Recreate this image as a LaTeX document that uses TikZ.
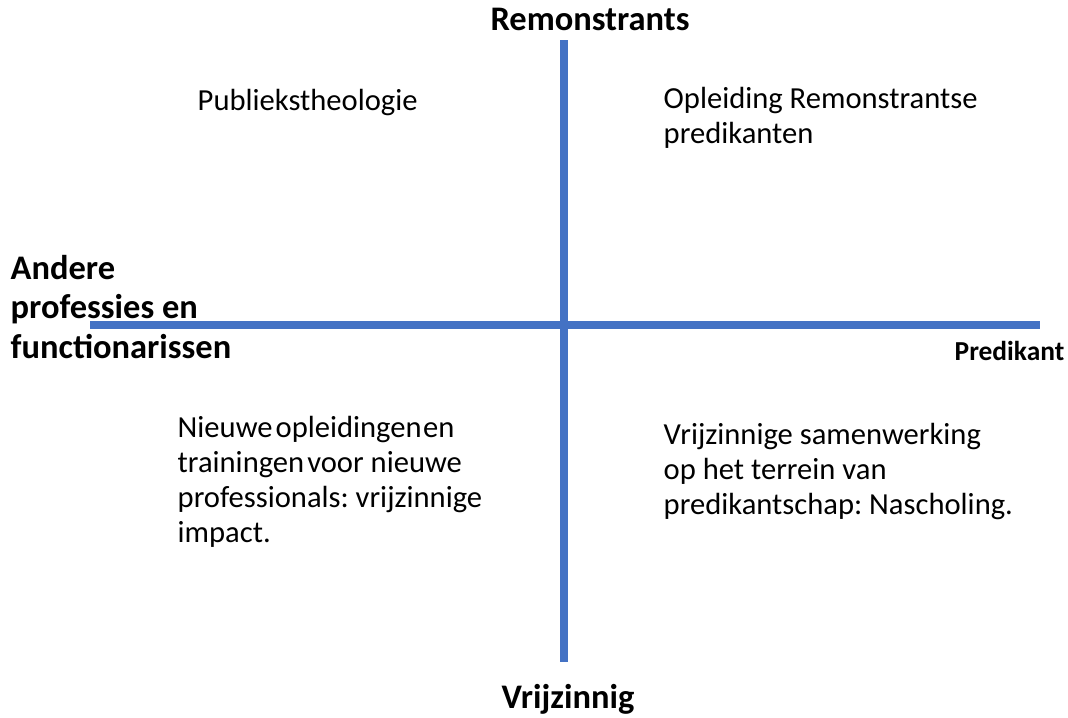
\documentclass[tikz,border=0pt]{standalone}
\usepackage{fontspec}
\setmainfont{Carlito}
\frenchspacing
\definecolor{axisblue}{HTML}{4472C4}
\tikzset{
  axis/.style={axisblue, line width=7.5pt*0.2845},
  quadtext/.style={inner sep=0pt, align=left, anchor=base west, font=\fontsize{8.7}{9.9}\selectfont},
  axislabel/.style={inner sep=0pt, font=\bfseries\fontsize{9.8}{11.2}\selectfont}
}
\begin{document}
\begin{tikzpicture}[x=0.01cm, y=-0.01cm]
    \useasboundingbox (0,0) rectangle (1068,717);
    % axes
    \coordinate (top) at (564,40);
    \coordinate (bottom) at (564,662);
    \coordinate (left) at (90,325);
    \coordinate (right) at (1040,325);
    \draw[axis] (left) -- (right);
    \draw[axis] (top) -- (bottom);
    % axis labels (base = last line)
    \node[axislabel, anchor=base] (remon) at (590,30) {Remonstrants};
    \node[axislabel, anchor=base] (vrij) at (568,708) {Vrijzinnig};
    \node[axislabel, anchor=base east, font=\bfseries\fontsize{7.8}{9}\selectfont] (pred) at (1065,360) {Predikant};
    \node[axislabel, anchor=base west, align=left] (andere) at (10,358)
        {Andere\\professies en\\functionarissen};
    % quadrants
    \node[quadtext] (publiek) at (197,110) {Publiekstheologie};
    \node[quadtext] (opleiding) at (663,143) {Opleiding Remonstrantse\\predikanten};
    \node[quadtext] (nieuwe) at (177,542)
        {Nieuwe\hspace{0.1em}opleidingen\hspace{0.05em}en\\trainingen\hspace{0.1em}voor nieuwe\\professionals: vrijzinnige\\impact.};
    \node[quadtext] (samen) at (663,514)
        {Vrijzinnige samenwerking\\op het terrein van\\predikantschap: Nascholing.};
\end{tikzpicture}
\end{document}
